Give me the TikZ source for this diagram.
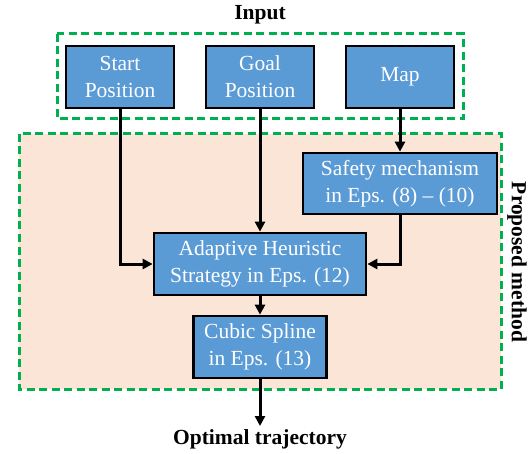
\documentclass[tikz,border=0pt]{standalone}
\usepackage{fontspec}
\setmainfont{Liberation Serif}
\usetikzlibrary{arrows.meta}
\definecolor{boxblue}{HTML}{5B9BD5}
\definecolor{peach}{HTML}{FBE5D6}
\definecolor{dgreen}{HTML}{00B050}
\begin{document}
\begin{tikzpicture}[x=1pt,y=-1pt,
  blk/.style={draw=black,line width=2.7pt,fill=boxblue,text=white,align=center,
    inner sep=0pt,font=\fontsize{21.5}{27}\selectfont},
  grp/.style={draw=dgreen,line width=3pt,dash pattern=on 8pt off 4.5pt},
  lbl/.style={font=\fontsize{21.5}{26}\selectfont\bfseries},
  conn/.style={line width=3pt,-{Triangle[length=10pt,width=10pt]}}]
\useasboundingbox (0,0) rectangle (532,454);
% groups
\draw[grp,fill=peach] (19,134) rectangle (501,389);
\draw[grp] (57,34) rectangle (463,119);
\node[lbl] (inlbl) at (260,15) {Input};
\node[lbl,rotate=-90] (pmlbl) at (517,262) {Proposed method};
% blocks
\node[blk,minimum width=108pt,minimum height=62pt] (start) at (120,77) {Start\\Position};
\node[blk,minimum width=108pt,minimum height=62pt] (goal) at (260,77) {Goal\\Position};
\node[blk,minimum width=108pt,minimum height=62pt] (map) at (400,77) {Map};
\node[blk,minimum width=194pt,minimum height=61pt] (safe) at (400,183.5) {Safety mechanism\\in Eps. (8) -- (10)};
\node[blk,minimum width=212pt,minimum height=62pt] (ahs) at (260,264) {Adaptive Heuristic\\Strategy in Eps. (12)};
\node[blk,minimum width=133pt,minimum height=62pt] (cub) at (260,347) {Cubic Spline\\in Eps. (13)};
\node[lbl,anchor=north] (opt) at (260,426) {Optimal trajectory};
% connectors
\draw[conn] (start.south) |- (ahs.west);
\draw[conn] (goal.south) -- (ahs.north);
\draw[conn] (map.south) -- (safe.north);
\draw[conn] (safe.south) |- (ahs.east);
\draw[conn] (ahs.south) -- (cub.north);
\draw[conn] (cub.south) -- (opt.north);
\end{tikzpicture}
\end{document}
